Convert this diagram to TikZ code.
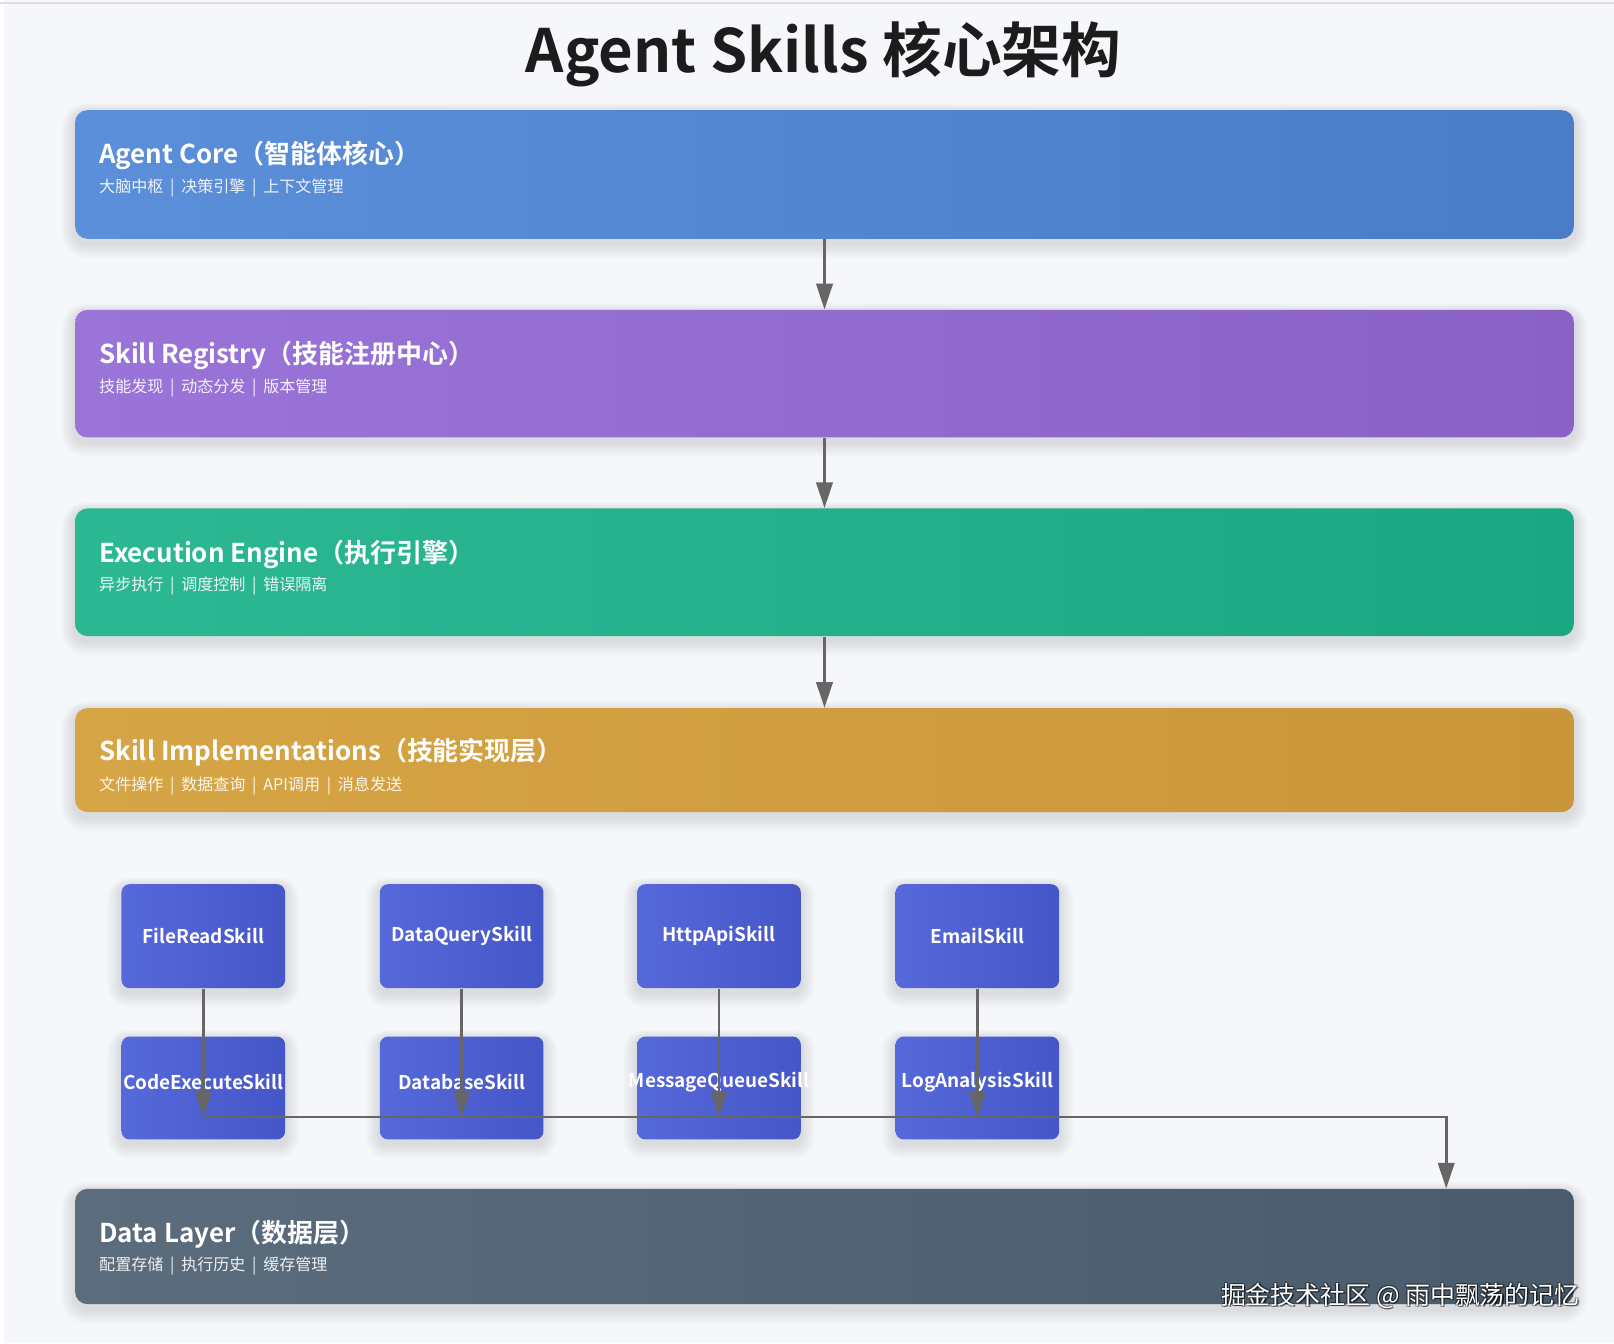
\documentclass[tikz,border=0pt]{standalone}
\usepackage{fontspec}
\setmainfont{Noto Sans CJK SC}[BoldFont={Noto Sans CJK SC Bold}]
\usetikzlibrary{arrows.meta}
\pgfdeclarelayer{back}\pgfdeclarelayer{shadowlayer}
\pgfsetlayers{back,shadowlayer,main}
\definecolor{bg}{HTML}{F5F7FA}
\definecolor{titlec}{HTML}{1C1C1C}
\definecolor{a1}{HTML}{5B8FD9}\definecolor{a2}{HTML}{4A7DC8}
\definecolor{b1}{HTML}{9A74D9}\definecolor{b2}{HTML}{8A62C6}
\definecolor{c1}{HTML}{2DB894}\definecolor{c2}{HTML}{1AA882}
\definecolor{d1}{HTML}{D6A545}\definecolor{d2}{HTML}{C9963A}
\definecolor{e1}{HTML}{5B6C7D}\definecolor{e2}{HTML}{4A5B6B}
\definecolor{s1c}{HTML}{5669DA}\definecolor{s2c}{HTML}{4556C8}
\definecolor{arrc}{HTML}{666666}
\newcommand\sepbar{\hspace{0.42em}|\hspace{0.42em}}
\newcommand\softshadow[2]{%
  \begin{pgfonlayer}{shadowlayer}
  \foreach \i in {1,...,9}{
    \fill[black, opacity=0.012, rounded corners=#2+\i*0.7pt]
      ([xshift=-\i*0.75pt, yshift=-2.5pt-\i*0.75pt]#1.south west) rectangle
      ([xshift=\i*0.75pt, yshift=-1pt+\i*0.45pt]#1.north east);
  }
  \end{pgfonlayer}}
\begin{document}
\begin{tikzpicture}[x=0.5pt,y=-0.5pt,
  layer/.style={rounded corners=6pt, minimum width=728pt, inner sep=0pt, draw=none},
  skillbox/.style={rounded corners=4pt, minimum width=79.5pt, inner sep=0pt, draw=none, left color=s1c, right color=s2c},
  ttl/.style={anchor=base west, inner sep=0pt, text=white, font=\bfseries\fontsize{12.6pt}{15pt}\selectfont},
  sub/.style={anchor=base west, inner sep=0pt, text=white, text opacity=0.9, font=\fontsize{7.8pt}{9pt}\selectfont},
  lbl/.style={inner sep=0pt, text=white, font=\bfseries\fontsize{9.2pt}{11pt}\selectfont},
  arr/.style={draw=arrc, line width=1.3pt, -{Triangle[length=12.5pt,width=8pt]}},
  wm/.style={anchor=base east, inner sep=0pt, font=\fontsize{12.1pt}{14pt}\selectfont}
]
\begin{pgfonlayer}{back}
\useasboundingbox (0,0) rectangle (1568,1305);
\fill[bg] (0,0) rectangle (1568,1305);
\fill[white] (0,0) rectangle (4,1305);
\fill[black!13] (0,2) rectangle (1568,4);
\end{pgfonlayer}

% title
\node[inner sep=0pt, anchor=base, text=titlec, font=\bfseries\fontsize{29pt}{34pt}\selectfont] (title) at (800,70) {Agent Skills 核心架构};

% layers
\node[layer, minimum height=62.5pt, left color=a1, right color=a2] (core) at (801,169.5) {};
\node[layer, minimum height=62pt, left color=b1, right color=b2] (reg) at (801,363) {};
\node[layer, minimum height=62pt, left color=c1, right color=c2] (exec) at (801,556) {};
\node[layer, minimum height=50.5pt, left color=d1, right color=d2] (impl) at (801,738.5) {};
\node[layer, minimum height=56pt, left color=e1, right color=e2] (data) at (801,1211) {};
\softshadow{core}{6pt}\softshadow{reg}{6pt}\softshadow{exec}{6pt}\softshadow{impl}{6pt}\softshadow{data}{6pt}

\node[ttl] (coreT) at (96,159) {Agent Core（智能体核心）};
\node[sub] (coreS) at (96,187) {大脑中枢\sepbar 决策引擎\sepbar 上下文管理};
\node[ttl] (regT) at (96,353) {Skill Registry（技能注册中心）};
\node[sub] (regS) at (96,381) {技能发现\sepbar 动态分发\sepbar 版本管理};
\node[ttl] (execT) at (96,546) {Execution Engine（执行引擎）};
\node[sub] (execS) at (96,574) {异步执行\sepbar 调度控制\sepbar 错误隔离};
\node[ttl] (implT) at (96,739) {Skill Implementations（技能实现层）};
\node[sub] (implS) at (96,768) {文件操作\sepbar 数据查询\sepbar API调用\sepbar 消息发送};
\node[ttl] (dataT) at (96,1207) {Data Layer（数据层）};
\node[sub] (dataS) at (96,1234) {配置存储\sepbar 执行历史\sepbar 缓存管理};

% skill boxes
\node[skillbox, minimum height=50.5pt] (sk1) at (197.5,909.5) {};
\node[skillbox, minimum height=50.5pt] (sk2) at (448.5,909.5) {};
\node[skillbox, minimum height=50.5pt] (sk3) at (698.5,909.5) {};
\node[skillbox, minimum height=50.5pt] (sk4) at (949.5,909.5) {};
\node[skillbox, minimum height=50pt] (sk5) at (197.5,1057) {};
\node[skillbox, minimum height=50pt] (sk6) at (448.5,1057) {};
\node[skillbox, minimum height=50pt] (sk7) at (698.5,1057) {};
\node[skillbox, minimum height=50pt] (sk8) at (949.5,1057) {};
\foreach \n in {sk1,sk2,sk3,sk4,sk5,sk6,sk7,sk8}{\softshadow{\n}{4pt}}

\node[lbl] (l1) at (197.5,909) {FileReadSkill};
\node[lbl] (l2) at (448.5,909) {DataQuerySkill};
\node[lbl] (l3) at (698.5,909) {HttpApiSkill};
\node[lbl] (l4) at (949.5,909) {EmailSkill};
\node[lbl] (l5) at (197.5,1051) {CodeExecuteSkill};
\node[lbl] (l6) at (448.5,1051) {DatabaseSkill};
\node[lbl] (l7) at (698.5,1051) {MessageQueueSkill};
\node[lbl] (l8) at (949.5,1051) {LogAnalysisSkill};

% connectors
\draw[arr] (core.south) -- (reg.north);
\draw[arr] (reg.south) -- (exec.north);
\draw[arr] (exec.south) -- (impl.north);

\coordinate (busL) at (197.5,1085);
\coordinate (busR) at (1405,1085);
\draw[arr] (sk1.south) -- (sk1.south |- busL);
\draw[arr] (sk2.south) -- (sk2.south |- busL);
\draw[arr] (sk3.south) -- (sk3.south |- busL);
\draw[arr] (sk4.south) -- (sk4.south |- busL);
\draw[arr] (busL) -- (busR) -- (busR |- data.north);

% watermark
\foreach \dx/\dy in {1/1,-1/1,1/-1,-1/-1,1.5/1.5}
  \node[wm, text=black, text opacity=0.35] at (1535+\dx,1267+\dy) {掘金技术社区 @ 雨中飘荡的记忆};
\node[wm, text=white] (wmark) at (1535,1267) {掘金技术社区 @ 雨中飘荡的记忆};
\end{tikzpicture}
\end{document}
